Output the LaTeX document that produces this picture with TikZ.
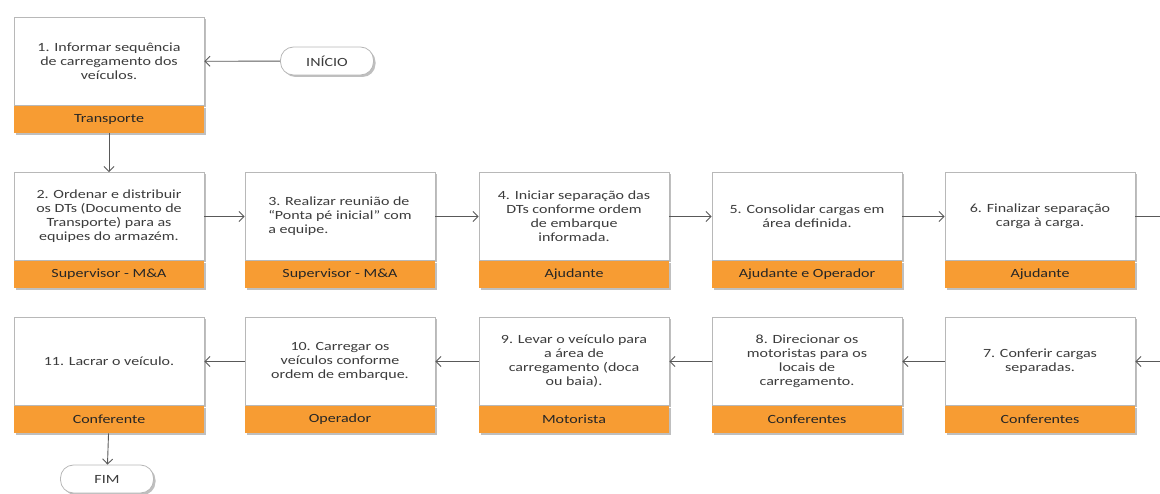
\documentclass[tikz,border=0pt]{standalone}
\usepackage{fontspec}
\setmainfont{Carlito}[FakeStretch=1.28]
\usetikzlibrary{arrows.meta,shadows}
\definecolor{boxline}{HTML}{B8B8B8}
\definecolor{roleorange}{HTML}{F79C33}
\definecolor{txt}{HTML}{3C3C3C}
\definecolor{conn}{HTML}{595959}
\begin{document}
\begin{tikzpicture}[x=1pt,y=-1pt,
  shad/.style={drop shadow={shadow xshift=2pt,shadow yshift=-2pt,fill=black,opacity=0.25}},
  stepbox/.style={shad,draw=boxline,line width=0.8pt,fill=white,minimum width=190pt,minimum height=88pt,
    align=center,text=txt,font=\fontsize{12.5}{14}\selectfont,inner sep=3pt},
  rolebox/.style={shad,fill=roleorange,minimum width=190pt,minimum height=27pt,
    text=black!85,font=\fontsize{12.5}{14}\selectfont,inner sep=0pt},
  pill/.style={shad,draw=boxline,line width=0.8pt,fill=white,rounded corners=13pt,minimum width=93pt,
    minimum height=28pt,text=txt,font=\fontsize{12.5}{14}\selectfont},
  conn/.style={draw=conn,line width=0.9pt,-{Straight Barb[length=5pt,width=10pt]}},
  line/.style={draw=conn,line width=0.9pt}]
\useasboundingbox (0,0) rectangle (1160,494);
% row 1
\node[stepbox] (b1) at (109,61.5) {1. Informar sequência\\de carregamento dos\\veículos.};
\node[rolebox,anchor=north] (r1) at (b1.south) {Transporte};
\node[pill] (ini) at (327,61) {INÍCIO};
% row 2
\node[stepbox] (b2) at (109,216.5) {2. Ordenar e distribuir\\os DTs (Documento de\\Transporte) para as\\equipes do armazém.};
\node[rolebox,anchor=north] (r2) at (b2.south) {Supervisor - M\&A};
\node[stepbox,align=left] (b3) at (340,216.5) {3. Realizar reunião de\\“Ponta pé inicial” com\\a equipe.};
\node[rolebox,anchor=north] (r3) at (b3.south) {Supervisor - M\&A};
\node[stepbox] (b4) at (574,216.5) {4. Iniciar separação das\\DTs conforme ordem\\de embarque\\informada.};
\node[rolebox,anchor=north] (r4) at (b4.south) {Ajudante};
\node[stepbox] (b5) at (807,216.5) {5. Consolidar cargas em\\área definida.};
\node[rolebox,anchor=north] (r5) at (b5.south) {Ajudante e Operador};
\node[stepbox] (b6) at (1040,216.5) {6. Finalizar separação\\carga à carga.};
\node[rolebox,anchor=north] (r6) at (b6.south) {Ajudante};
% row 3
\node[stepbox] (b7) at (1040,361.5) {7. Conferir cargas\\separadas.};
\node[rolebox,anchor=north] (r7) at (b7.south) {Conferentes};
\node[stepbox] (b8) at (807,361.5) {8. Direcionar os\\motoristas para os\\locais de\\carregamento.};
\node[rolebox,anchor=north] (r8) at (b8.south) {Conferentes};
\node[stepbox] (b9) at (574,361.5) {9. Levar o veículo para\\a área de\\carregamento (doca\\ou baia).};
\node[rolebox,anchor=north] (r9) at (b9.south) {Motorista};
\node[stepbox] (b10) at (340,361.5) {10. Carregar os\\veículos conforme\\ordem de embarque.};
\node[rolebox,anchor=north] (r10) at (b10.south) {Operador};
\node[stepbox] (b11) at (109,361.5) {11. Lacrar o veículo.};
\node[rolebox,anchor=north] (r11) at (b11.south) {Conferente};
\node[pill] (fim) at (107,479) {FIM};
% edge coordinates
\coordinate (rtop) at (1160,216.5);
\coordinate (rbot) at (1160,361.5);
% connectors
\draw[conn] (ini) -- (b1);
\draw[conn] (r1) -- (b2);
\draw[conn] (b2) -- (b3);
\draw[conn] (b3) -- (b4);
\draw[conn] (b4) -- (b5);
\draw[conn] (b5) -- (b6);
\draw[line] (b6) -- (rtop);
\draw[conn] (rbot) -- (b7);
\draw[conn] (b7) -- (b8);
\draw[conn] (b8) -- (b9);
\draw[conn] (b9) -- (b10);
\draw[conn] (b10) -- (b11);
\draw[conn] (r11) -- (fim);
\end{tikzpicture}
\end{document}
